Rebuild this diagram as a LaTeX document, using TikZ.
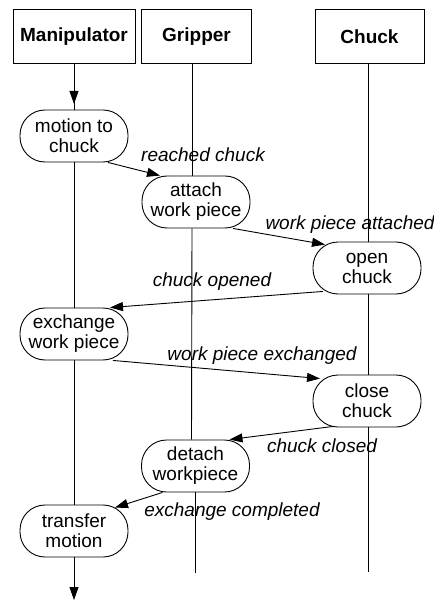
\documentclass[tikz,border=0pt]{standalone}
\usepackage{fontspec}
\setmainfont{Liberation Sans}
\usetikzlibrary{arrows.meta}
\begin{document}
\begin{tikzpicture}[x=1pt,y=-1pt,
  line width=0.9pt,
  head/.style={draw, minimum width=#1, minimum height=54pt, inner sep=0pt, font=\fontsize{19}{20}\selectfont\bfseries},
  act/.style={draw, fill=white, rounded corners=25pt, minimum width=108pt, minimum height=52pt, inner sep=0pt, align=center, font=\fontsize{19}{20}\selectfont},
  lbl/.style={font=\fontsize{19}{20}\selectfont\itshape, inner sep=0pt},
  msg/.style={-{Triangle[length=13pt,width=9pt]}},
]
\useasboundingbox (0,0) rectangle (433,601);
\fill[white] (0,0) rectangle (433,601);
% headers
\node[head=122pt] (mh) at (74,36.5) {\raisebox{-3pt}{Manipulator}};
\node[head=110pt] (gh) at (196.5,36.5) {\raisebox{-3pt}{Gripper}};
\node[head=109pt] (ch) at (369.5,36.5) {\raisebox{-4pt}{Chuck}};
% activities
\node[act] (mtc) at (74,136) {motion to\\chuck};
\node[act] (att) at (196,202) {attach\\work piece};
\node[act] (oc)  at (367,268) {open\\chuck};
\node[act] (exc) at (74,334) {exchange\\work piece};
\node[act] (cc)  at (367,401) {close\\chuck};
\node[act] (det) at (195.5,466) {detach\\workpiece};
\node[act] (tra) at (74,531) {transfer\\motion};
% end coordinates
\coordinate (gend) at (195,573);
\coordinate (cend) at (368,572);
\coordinate (mend) at (74,600);
% manipulator lifeline
\draw[msg] (mh.south) -- ++(0,-40pt);
\draw (mh.south) -- (mtc.north);
\draw (mtc.south) -- (exc.north);
\draw (exc.south) -- (tra.north);
\draw[msg] (tra.south) -- (mend);
% gripper lifeline
\draw ([xshift=-4.5pt]gh.south) -- ([xshift=-4pt]att.north);
\draw ([xshift=-4pt]att.south) -- ([xshift=-4pt]det.north);
\draw ([xshift=-0.5pt]det.south) -- (gend);
% chuck lifeline
\draw ([xshift=-1.5pt]ch.south) -- ([xshift=1pt]oc.north);
\draw ([xshift=1pt]oc.south) -- ([xshift=1pt]cc.north);
\draw ([xshift=1pt]cc.south) -- (cend);
% messages
\draw[msg] ([xshift=34pt]mtc.south) -- ([xshift=-36pt]att.north);
\draw[msg] ([xshift=37pt]att.south) -- ([xshift=-42pt,yshift=-3pt]oc.north);
\draw[msg] ([xshift=-44pt,yshift=3pt]oc.south) -- ([xshift=36pt]exc.north);
\draw[msg] ([xshift=39pt]exc.south) -- ([xshift=-47pt,yshift=-4pt]cc.north);
\draw[msg] ([xshift=-34pt,yshift=1pt]cc.south) -- ([xshift=34pt]det.north);
\draw[msg] ([xshift=-33pt]det.south) -- ([xshift=41pt,yshift=-3pt]tra.north);
% labels
\node[lbl] (l1) at (203,155) {reached chuck};
\node[lbl] (l2) at (350,225) {work piece attached};
\node[lbl] (l3) at (212,282) {chuck opened};
\node[lbl] (l4) at (262,356) {work piece exchanged};
\node[lbl] (l5) at (322,446) {chuck closed};
\node[lbl] (l6) at (232,512) {exchange completed};
\end{tikzpicture}
\end{document}
